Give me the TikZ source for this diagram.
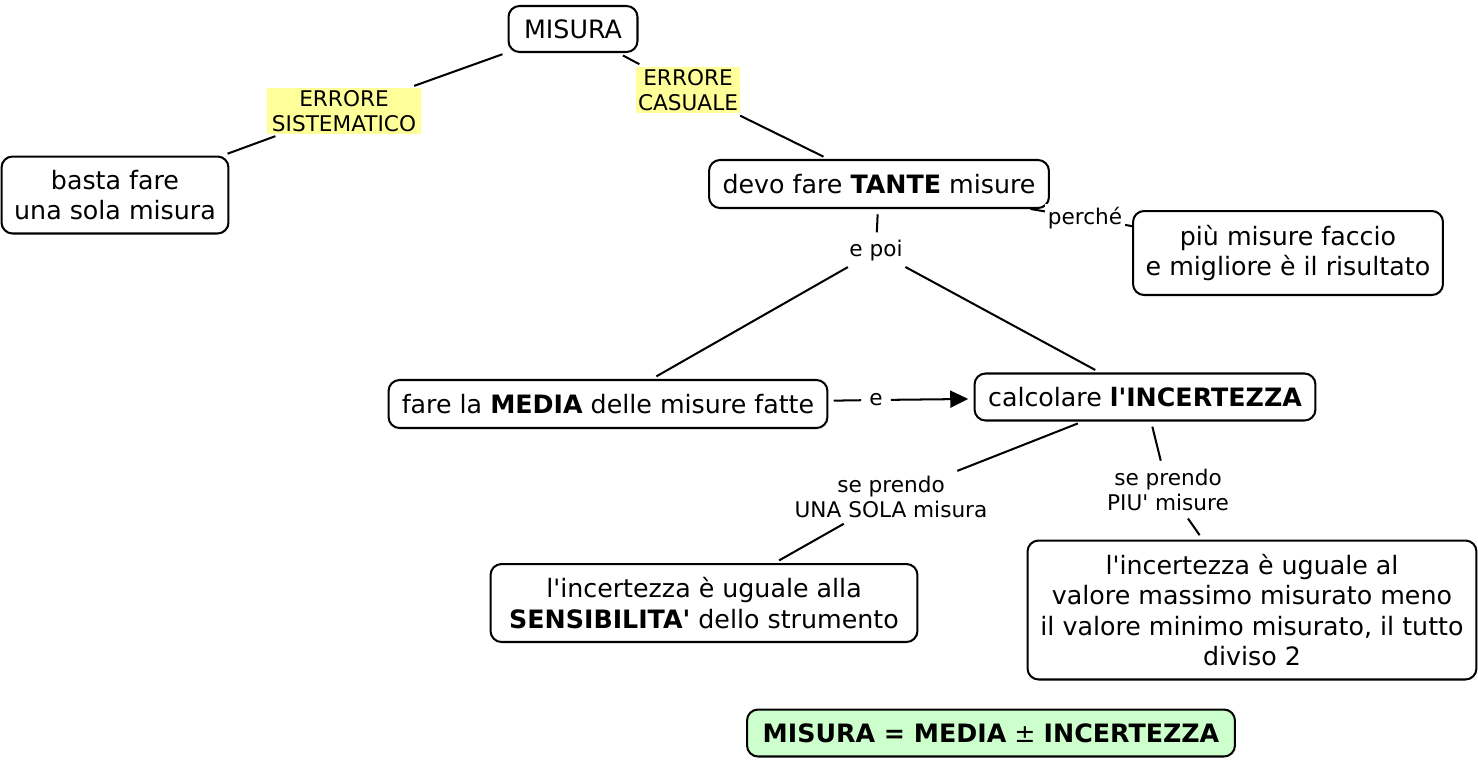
\documentclass[tikz,border=0pt]{standalone}
\usepackage{fontspec}
\setmainfont{DejaVu Sans}
\usetikzlibrary{arrows.meta}

\begin{document}
\begin{tikzpicture}[x=0.02cm,y=-0.02cm,
  concept/.style={draw,line width=1.15pt,rounded corners=0.22cm,align=center,
    inner sep=0pt,font=\fontsize{14.4}{17.2}\selectfont},
  linklabel/.style={align=center,inner sep=1.5pt,fill=white,
    font=\fontsize{12.3}{14.6}\selectfont},
  errlabel/.style={linklabel,fill=errcolor,inner sep=0pt,
    minimum height=0.92cm},
  link/.style={line width=1.15pt,shorten <=3pt,shorten >=3pt}]

\definecolor{errcolor}{RGB}{255,255,153}
\definecolor{formulacolor}{RGB}{204,255,204}

\useasboundingbox (0,0) rectangle (1478,761);

% DRAW THE CONCEPTS
\node[concept,minimum width=2.58cm,minimum height=0.92cm] (misura) at (573,29) {MISURA};
\node[concept,minimum width=4.54cm,minimum height=1.54cm] (unasola) at (115,195) {basta fare\\una sola misura};
\node[concept,minimum width=6.8cm,minimum height=0.96cm] (tante) at (879,184) {devo fare \textbf{TANTE} misure};
\node[concept,minimum width=6.2cm,minimum height=1.68cm] (risultato) at (1288,253) {più misure faccio\\e migliore è il risultato};
\node[concept,minimum width=8.78cm,minimum height=0.96cm] (media) at (608,404) {fare la \textbf{MEDIA} delle misure fatte};
\node[concept,minimum width=6.82cm,minimum height=0.94cm] (incert) at (1145,397) {calcolare \textbf{l\textquotesingle INCERTEZZA}};
\node[concept,minimum width=8.54cm,minimum height=1.56cm] (sensib) at (704,603) {l\textquotesingle incertezza è uguale alla\\\textbf{SENSIBILITA\textquotesingle} dello strumento};
\node[concept,minimum width=8.98cm,minimum height=2.78cm] (semidisp) at (1252,610) {l\textquotesingle incertezza è uguale al\\valore massimo misurato meno\\il valore minimo misurato, il tutto\\diviso 2};
\node[concept,fill=formulacolor,minimum width=9.76cm,minimum height=0.94cm] (formula) at (991,733) {\textbf{MISURA = MEDIA} ± \textbf{INCERTEZZA}};

% DRAW THE LINK LABELS
\node[errlabel,minimum width=3.08cm] (sistem) at (344,111) {ERRORE\\SISTEMATICO};
\node[errlabel,minimum width=2.08cm] (casual) at (688,90) {ERRORE\\CASUALE};
\node[linklabel] (perche) at (1085,218) {perché};
\node[linklabel] (epoi) at (876,251) {e poi};
\node[linklabel] (e) at (876,400) {e};
\node[linklabel] (sola) at (891,497) {se prendo\\UNA SOLA misura};
\node[linklabel] (piu) at (1168,490) {se prendo\\PIU\textquotesingle{} misure};

% DRAW THE LINKS
\draw[link] (misura) -- (sistem);
\draw[link] (sistem) -- (unasola);
\draw[link] (misura) -- (casual);
\draw[link] (casual) -- (tante);
\draw[link,shorten <=0pt,shorten >=0pt] (tante) -- (perche);
\draw[link,shorten <=0pt,shorten >=0pt] (perche) -- (risultato);
\draw[link] (tante) -- (epoi);
\draw[link] (epoi) -- (media);
\draw[link] (epoi) -- (incert);
\draw[link] (media) -- (e);
\draw[link,-{Triangle[length=0.36cm,width=0.34cm]}] (e) -- (incert);
\draw[link] (incert) -- (sola);
\draw[link] (sola) -- (sensib);
\draw[link] (incert) -- (piu);
\draw[link] (piu) -- (semidisp);

\end{tikzpicture}
\end{document}
